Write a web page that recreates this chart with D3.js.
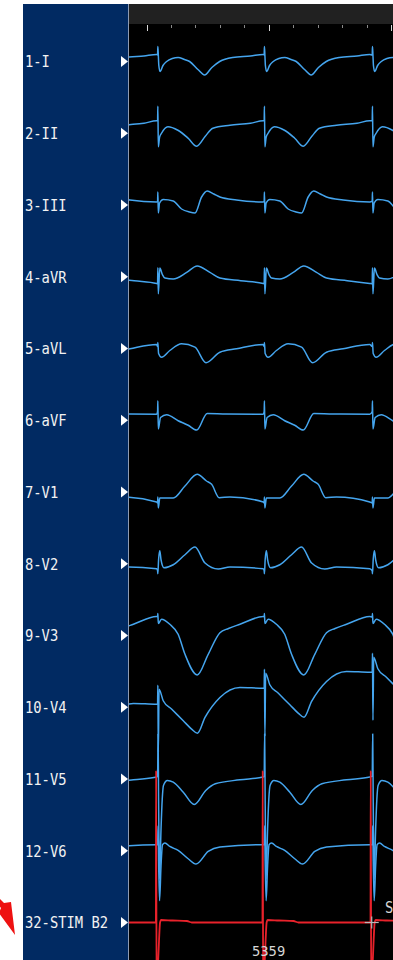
<!DOCTYPE html>
<html>
<head>
<meta charset="utf-8">
<script src="https://cdn.jsdelivr.net/npm/d3@7"></script>
<style>
  html, body { margin: 0; padding: 0; background: #ffffff; }
  svg { display: block; }
</style>
</head>
<body>
<script>
// ---------------- DATA ----------------
const leadNames = ["1-I","2-II","3-III","4-aVR","5-aVL","6-aVF","7-V1","8-V2","9-V3","10-V4","11-V5","12-V6","32-STIM B2"];

// time of each paced beat (ms) on the sweep
const beatTimes = [-391, 45, 481, 923];

// sweep tick marks (ms) and the major ones
const tickTimes = [0, 100, 200, 300, 400, 500, 600, 700, 800, 900, 1000];
const majorTicks = [0, 500, 1000];

// per-beat waveform: [ms after pacing spike, amplitude (display units)]
const leadI   = [[0,6.5],[1,15],[3,6],[5,-4],[10,-10],[22,-4],[37,0],[60,3],[84,4],[110,2],[131,0],[165,-8],[192,-13.5],[222,-6],[254,0],[307,4],[380,5.5],[432,7]];
const leadII  = [[0,12.5],[1,27],[3,-13.5],[8,-4],[16,0],[42,6.5],[83,3],[125,-5],[160,-13],[195,-3],[226,5],[296,8],[380,10],[432,12.5]];
const leadIII = [[0,4],[1,13],[3,-8],[8,2],[23,5.5],[64,4],[98,-4],[130,-7],[153,-8],[180,8],[203,14],[230,11],[255,8],[323,5],[432,3]];
const leadAVR = [[0,-7],[1,9],[3,-17],[9,8.7],[20,2],[30,-1.3],[64,-2.3],[119,4.3],[162,10.7],[214,4.3],[255,-1.3],[340,-4],[432,-6.7]];
const leadAVL = [[0,2],[1,6],[4,-5],[16,-8.7],[50,-2],[98,4.7],[153,1.3],[198,-14.3],[255,-3.7],[323,-0.3],[432,4]];
const leadAVF = [[0,8.8],[1,19.5],[3,-8.8],[12,2.8],[37,5.5],[84,-0.5],[125,-5],[160,-9.8],[203,6.8],[282,6.2],[432,6]];
const leadV1  = [[0,-11],[1,-5],[3,-16],[9,-6],[64,-6],[112,6],[162,17.7],[200,11],[221,7.7],[252,-5.7],[296,-5],[432,-10]];
const leadV2  = [[0,-7],[1,-10],[4,4],[9,13],[14,4],[26,-4],[64,-1],[112,9],[153,16.7],[194,0.7],[248,-5.3],[296,-3.3],[432,-5]];
const leadV3  = [[0,18.5],[1,22],[3,12],[16,16.2],[50,11.2],[84,1.2],[112,-18.8],[162,-39.5],[207,-18.8],[255,2.8],[290,7],[337,11.2],[432,19]];
const leadV4  = [[0,3],[1,22],[3,-45],[6,18],[23,6.5],[57,-1.8],[105,-13.5],[139,-21.8],[163,-26],[194,-10.2],[255,9.8],[337,19.8],[432,19]];
const leadV5  = [[0,3],[2,45],[4,-20],[8,-100],[14,-50],[19,-20],[24,-6.5],[40,-1.5],[64,-3.2],[105,-13.2],[150,-25.5],[197,-11.5],[236,-4.8],[337,-0.8],[432,2]];
const leadV6  = [[0,6],[2,25],[4,-10],[8,-50],[14,-15],[20,6],[30,7.7],[50,4.3],[84,0.3],[125,-8],[157,-13.3],[207,-0.7],[255,3.7],[432,6]];
const stimB2  = [[-7,0],[-6,152],[-4,-90],[2,-40],[6,-17],[10,0],[14,2.5],[60,2],[120,1.5],[140,0],[420,0]];

// baseline shift of each beat, per lead
const driftFlat = [0, 0, 0, 0];
const driftV4   = [-16, 0, 16, 32];

const traces = [
  {t: leadI,   d: driftFlat}, {t: leadII,  d: driftFlat}, {t: leadIII, d: driftFlat},
  {t: leadAVR, d: driftFlat}, {t: leadAVL, d: driftFlat}, {t: leadAVF, d: driftFlat},
  {t: leadV1,  d: driftFlat}, {t: leadV2,  d: driftFlat}, {t: leadV3,  d: driftFlat},
  {t: leadV4,  d: driftV4},   {t: leadV5,  d: driftFlat}, {t: leadV6,  d: driftFlat},
  {t: stimB2,  d: driftFlat}
];

// bottom annotations
const cursorValue = "5359";
const cursorTag = "S";

// ---------------- LAYOUT ----------------
const W = 393, H = 960;
const panelX = 23, panelRight = 128, plotX = 129, plotRight = 393, topY = 4, barBottom = 24;

const svg = d3.select("body").append("svg").attr("width", W).attr("height", H);

const x = d3.scaleLinear().domain([-72, 1008]).range([plotX, plotRight]);
const rowY = d3.scaleLinear().domain([0, leadNames.length - 1]).range([61.5, 922.5]);
const amp = d3.scaleLinear().domain([-100, 100]).range([100, -100]);

svg.append("rect").attr("x", 0).attr("y", 0).attr("width", W).attr("height", H).attr("fill", "#ffffff");
svg.append("rect").attr("x", panelX).attr("y", topY).attr("width", panelRight - panelX).attr("height", H - topY).attr("fill", "#012a62");
svg.append("rect").attr("x", plotX).attr("y", topY).attr("width", plotRight - plotX).attr("height", H - topY).attr("fill", "#000000");
svg.append("rect").attr("x", plotX).attr("y", topY).attr("width", plotRight - plotX).attr("height", barBottom - topY).attr("fill", "#212121");
svg.append("line").attr("x1", 128.5).attr("x2", 128.5).attr("y1", topY).attr("y2", H).attr("stroke", "#8d9bb3").attr("stroke-width", 1);

// ticks
svg.append("g").selectAll("line").data(tickTimes).join("line")
  .attr("x1", d => Math.round(x(d)) + 0.5).attr("x2", d => Math.round(x(d)) + 0.5)
  .attr("y1", 25).attr("y2", d => majorTicks.includes(d) ? 31 : 28)
  .attr("stroke", d => majorTicks.includes(d) ? "#d8d8d8" : "#8a8a8a").attr("stroke-width", 1);

// labels and markers
const labels = svg.append("g");
leadNames.forEach((name, i) => {
  const y = rowY(i);
  labels.append("text")
    .attr("transform", `translate(25,${y + 5.8}) scale(1,1.13)`)
    .attr("font-family", "DejaVu Sans Mono, Liberation Mono, monospace")
    .attr("font-size", 13.8)
    .attr("fill", "#f2f2f2")
    .text(name);
  labels.append("path")
    .attr("d", `M121,${y - 5.5} L128,${y} L121,${y + 5.5} Z`)
    .attr("fill", "#ffffff");
});

// traces
svg.append("clipPath").attr("id", "plotClip").append("rect")
  .attr("x", plotX).attr("y", 30).attr("width", plotRight - plotX).attr("height", H - 30);

const tg = svg.append("g").attr("clip-path", "url(#plotClip)");

function buildPoints(tr) {
  const pts = [];
  beatTimes.forEach((bt, k) => tr.t.forEach(([dt, a]) => pts.push([bt + dt, a + tr.d[k]])));
  return pts;
}

traces.forEach((tr, i) => {
  const base = rowY(i);
  const isStim = i === traces.length - 1;
  const line = d3.line()
    .x(d => x(d[0]))
    .y(d => base + amp(d[1]))
    .curve(d3.curveMonotoneX);
  tg.append("path")
    .attr("d", line(buildPoints(tr)))
    .attr("fill", "none")
    .attr("stroke", isStim ? "#e8222b" : "#45a5ee")
    .attr("stroke-width", isStim ? 1.8 : 1.5)
    .attr("stroke-linejoin", "round");
});

// cursor crosshair on stim channel, third beat
const cx = x(beatTimes[3]) - 0.5, cy = rowY(12);
svg.append("line").attr("x1", cx - 7).attr("x2", cx + 7).attr("y1", cy).attr("y2", cy).attr("stroke", "#b8b8b8").attr("stroke-width", 1.2);
svg.append("line").attr("x1", cx).attr("x2", cx).attr("y1", cy - 6).attr("y2", cy + 6).attr("stroke", "#b8b8b8").attr("stroke-width", 1.2);

// bottom annotations
svg.append("text")
  .attr("transform", `translate(252,956) scale(1,1.05)`)
  .attr("font-family", "DejaVu Sans Mono, Liberation Mono, monospace")
  .attr("font-size", 13.8).attr("fill", "#d6d6d6").text(cursorValue);
svg.append("text")
  .attr("transform", `translate(385,913) scale(1,1.13)`)
  .attr("font-family", "DejaVu Sans Mono, Liberation Mono, monospace")
  .attr("font-size", 13.8).attr("fill", "#d6d6d6").text(cursorTag);

// red pointer arrow at the left edge
svg.append("path")
  .attr("d", "M-4,895 L4,903 L11,902 L15,935 L-1,913 L1,908 L-5,901 Z")
  .attr("fill", "#ee1111");
</script>
</body>
</html>
